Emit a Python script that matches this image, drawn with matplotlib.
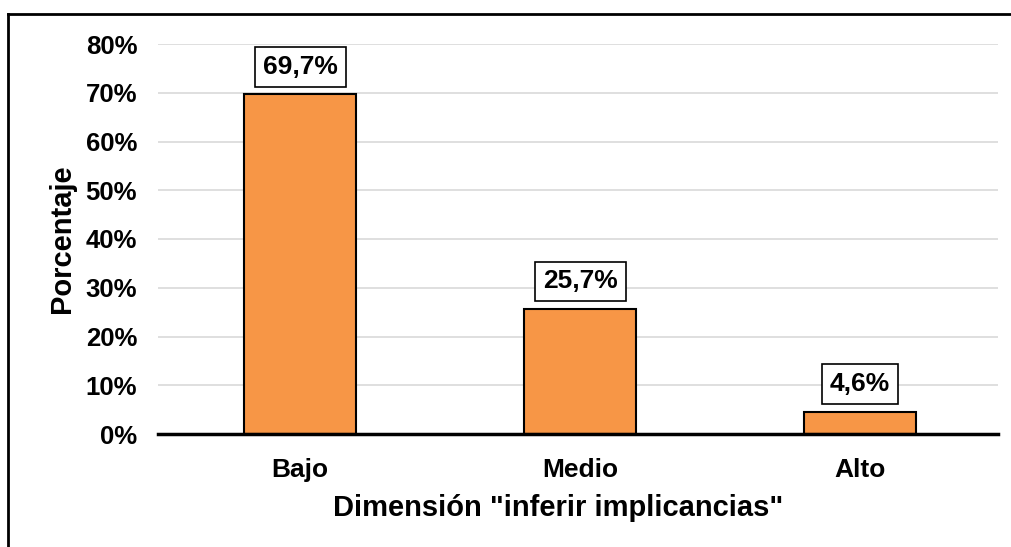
import numpy as np
import matplotlib.pyplot as plt
from matplotlib.lines import Line2D

# Datos
categorias = ['Bajo', 'Medio', 'Alto']
porcentajes = [69.7, 25.7, 4.6]
etiquetas = ['69,7%', '25,7%', '4,6%']
yticks = [0, 10, 20, 30, 40, 50, 60, 70, 80]

plt.rcParams['font.family'] = ['Liberation Sans', 'DejaVu Sans']
plt.rcParams['font.weight'] = 'bold'

fig = plt.figure(figsize=(10.12, 5.47), dpi=100)
ax = fig.add_axes([158 / 1012, 1 - 434 / 547, 840 / 1012, 390 / 547])

x = np.arange(len(categorias)) + 0.5
ax.bar(x, porcentajes, width=0.4, color='#F79646', edgecolor='black',
       linewidth=1.5, zorder=3)

for xi, v, lab in zip(x, porcentajes, etiquetas):
    ax.annotate(lab, (xi, v), xytext=(0, 11), textcoords='offset points',
                ha='center', va='bottom', fontsize=19, fontweight='bold',
                bbox=dict(boxstyle='square,pad=0.3', fc='white', ec='black', lw=1.2),
                zorder=4)

ax.set_xlim(-0.008, 2.992)
ax.set_ylim(0, 80)
ax.set_yticks(yticks)
ax.set_yticklabels([f'{t}%' for t in yticks], fontsize=18.5, fontweight='bold')
ax.set_xticks(x)
ax.set_xticklabels(categorias, fontsize=19, fontweight='bold')
ax.tick_params(axis='y', length=0, pad=15)
ax.tick_params(axis='x', length=0, pad=17)
ax.grid(axis='y', color='#d9d9d9', linewidth=1.2, zorder=0)
for s in ['top', 'right', 'left']:
    ax.spines[s].set_visible(False)
ax.spines['bottom'].set_linewidth(2.5)
ax.spines['bottom'].set_zorder(5)

ax.set_xlabel('Dimensión "inferir implicancias"', fontsize=21, fontweight='bold')
ax.xaxis.set_label_coords(0.476, -0.155)
ax.set_ylabel('Porcentaje', fontsize=21, fontweight='bold', labelpad=7)

# borde del gráfico
fig.add_artist(Line2D([8 / 1012, 8 / 1012], [0, 1 - 14 / 547], color='black', lw=2,
                      transform=fig.transFigure))
fig.add_artist(Line2D([8 / 1012, 1], [1 - 14 / 547, 1 - 14 / 547], color='black', lw=2,
                      transform=fig.transFigure))

fig.savefig('out.png', dpi=100)
